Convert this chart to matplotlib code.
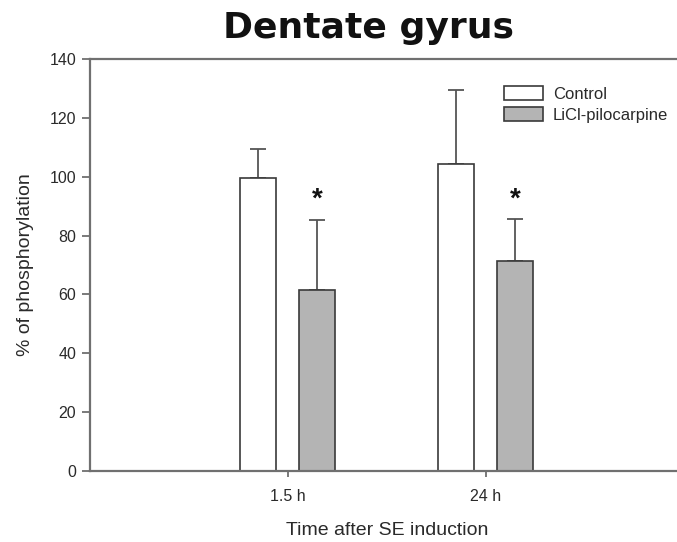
import matplotlib
matplotlib.use("Agg")
import matplotlib.pyplot as plt
import numpy as np

# Data
time_points = ["1.5 h", "24 h"]
series_names = ["Control", "LiCl-pilocarpine"]
control_mean = [99.5, 104.3]
control_err = [10.0, 25.3]
licl_mean = [61.5, 71.3]
licl_err = [23.8, 14.2]

plt.rcParams['font.family'] = ['Liberation Sans', 'DejaVu Sans']

fig = plt.figure(figsize=(6.77, 5.42), dpi=100)
ax = fig.add_axes([90 / 677, 71 / 542, 593.4 / 677, 412 / 542])

x = np.arange(1, len(time_points) + 1)
width = 0.182
offset = 0.149
edge = "#3a3a3a"
err_kw = dict(ecolor="#555555", elinewidth=1.3, capsize=6, capthick=1.3)

ax.bar(x - offset, control_mean, width, color="white", edgecolor=edge,
       linewidth=1.2, label=series_names[0], zorder=2)
ax.errorbar(x - offset, control_mean, yerr=[np.zeros(len(x)), control_err],
            fmt="none", zorder=1, **err_kw)
ax.bar(x + offset, licl_mean, width, color="#b4b4b4", edgecolor=edge,
       linewidth=1.2, label=series_names[1], zorder=2)
ax.errorbar(x + offset, licl_mean, yerr=[np.zeros(len(x)), licl_err],
            fmt="none", zorder=1, **err_kw)

# significance markers above the LiCl-pilocarpine bars
for xi, m, e in zip(x + offset, licl_mean, licl_err):
    ax.annotate("*", xy=(xi, m + e), xytext=(0, 5), textcoords="offset points",
                ha="center", va="bottom", fontsize=20, fontweight="bold",
                color="#111111")

ax.set_xlim(0, 3)
ax.set_ylim(0, 140)
ax.set_yticks(np.arange(0, 141, 20))
ax.set_xticks(x)
ax.set_xticklabels(time_points)

spine_c = "#707070"
for side in ["left", "bottom", "top", "right"]:
    ax.spines[side].set_color(spine_c)
    ax.spines[side].set_linewidth(1.6)
ax.tick_params(axis="y", direction="out", length=6, width=1.3, color=spine_c,
               labelsize=11.5, labelcolor="#2a2a2a", pad=4)
ax.tick_params(axis="x", direction="out", length=4, width=1.3, color=spine_c,
               labelsize=11.5, labelcolor="#2a2a2a", pad=9)

ax.set_ylabel("% of phosphorylation", fontsize=14, color="#2a2a2a", labelpad=11)
ax.set_xlabel("Time after SE induction", fontsize=14, color="#2a2a2a", labelpad=13)

fig.text(368 / 677, 1 - 28 / 542, "Dentate gyrus", fontsize=26,
         fontweight="bold", family="DejaVu Sans", ha="center", va="center",
         color="#111111")

leg = ax.legend(loc="upper left", bbox_to_anchor=(0.687, 0.95), frameon=False,
                fontsize=12, handlelength=2.3, handleheight=0.9,
                handletextpad=0.6, labelspacing=0.3, borderaxespad=0)
for t in leg.get_texts():
    t.set_color("#2a2a2a")

fig.savefig("out.png", dpi=100)
